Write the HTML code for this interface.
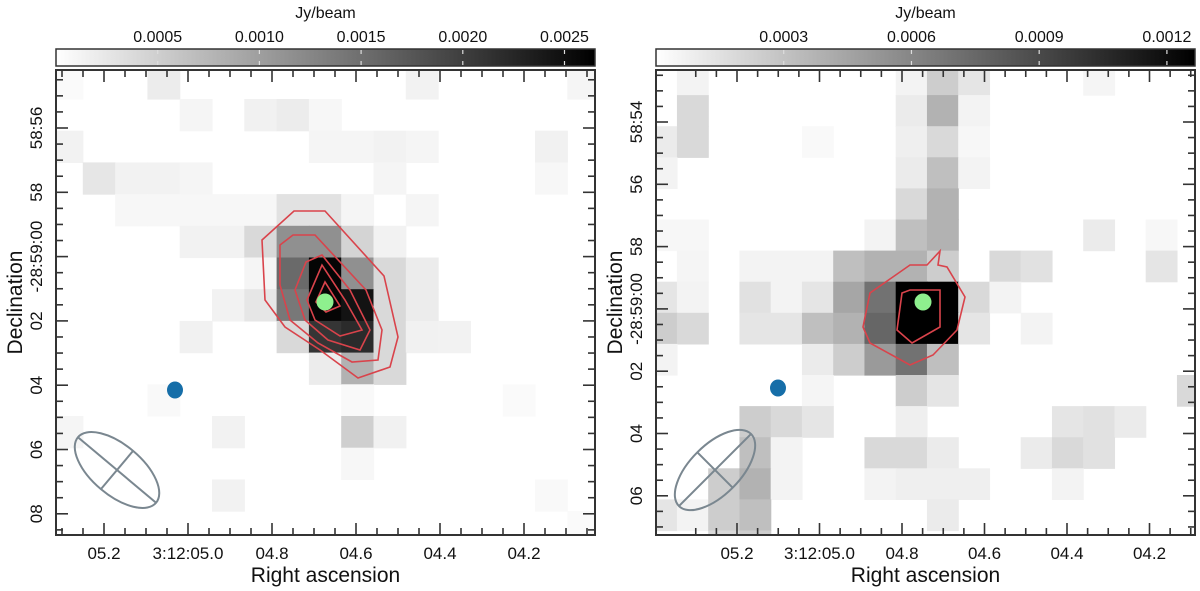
<!DOCTYPE html>
<html><head><meta charset="utf-8"><style>
html,body{margin:0;padding:0;background:#fff;}
svg{display:block;font-family:"Liberation Sans",Arial,sans-serif;}
</style></head><body>
<svg id="fig" width="1200" height="591" viewBox="0 0 1200 591" xmlns="http://www.w3.org/2000/svg">
<defs>
<linearGradient id="gbar" x1="0" x2="1" y1="0" y2="0"><stop offset="0" stop-color="#fff"/><stop offset="1" stop-color="#000"/></linearGradient>
<clipPath id="clipL"><rect x="56" y="70" width="539" height="465"/></clipPath>
<clipPath id="clipR"><rect x="656" y="70" width="539" height="465"/></clipPath>
</defs>
<g id="left"></g>
<g id="right"></g>
</svg>
<script>
// Flux maps (units of 1e-4 Jy/beam)
const leftMap = [
[0.5,0,0,2,0,0,0,0,0,0,0,1.3,0,0,0,0,1],
[0,0,0,0,1,0,1.5,2,0.8,0,0,0,0,0,0,0,0],
[1.3,0,0,0,0,0,0,0,1,1,1.3,1,0,0,0,1.5,0],
[0,2.6,1.3,1.3,1,0,0,0,0,0,1,0,0,0,0,0.8,0],
[0,0,0.8,0.8,0.8,0.8,0.8,3,3,1,0,1,0,0,0,0,0],
[0,0,0,0,1.3,1.3,4,11.5,11.5,4.5,1.3,0,0,0,0,0,0],
[0,0,0,0,0,0,1,15.5,26,11.5,4,2,0,0,0,0,0],
[0,0,0,0,0,1.3,2.6,14,26,24.5,4,2,0,0,0,0,0],
[0,0,0,0,1.5,0,0,4,21,22,4,1.5,1.3,0,0,0,0],
[0,0,0,0,0,0,0,0,2,8,4,0,0,0,0,0,0],
[0,0,0,0.6,0,0,0,0,0,0.6,0,0,0,0,0.5,0,0],
[1,0,0,0,0,1.3,0,0,0,5,1.5,0,0,0,0,0,0],
[0,0,0,0,0,0,0,0,0,0.8,0,0,0,0,0,0,0],
[0,0,0,0,0,1.3,0,0,0,0,0,0,0,0,0,0.6,0],
[0,0,0,0,0,0,0,0,0,0,0,0,0,0,0,0,0.5]
];
const rightMap = [
[0,0.6,0,0,0,0,0,0,0.6,2.5,1.3,0,0,0,0.5,0,0,0],
[0,1.9,0,0,0,0,0,0,1,3.8,0.6,0,0,0,0,0,0,0],
[1,1.9,0,0,0,0.3,0,0,0.8,1.9,0.4,0,0,0,0,0,0,0],
[0.6,0,0,0,0,0,0,0,1,3.2,0.6,0,0,0,0,0,0,0],
[0,0,0,0,0,0,0,0,1.9,3.8,0,0,0,0,0,0,0,0],
[0.4,0.4,0,0,0,0,0,0.6,3.2,3.8,0,0,0,0,1,0,0.4,0],
[0,0.5,0,0.6,0.6,0.6,3.2,3.8,3.8,2.5,0,1.9,1.5,0,0,0,1.3,0],
[1.3,0.6,0,1.5,0.6,1.3,4.4,7,12.7,12.7,1.9,0.6,0,0,0,0,0,0],
[2.5,1.9,0,1.3,1.3,3.2,3.8,7.6,12.7,12.7,1.3,0,0.6,0,0,0,0,0],
[0.6,0,0,0,0,1,2.5,5,7,3.2,0,0,0,0,0,0,0,0],
[0,0,0,0,0,0.5,0,0,2.5,1.3,0,0,0,0,0,0,0,1.9],
[0,0,0,2.5,1.9,1.3,0,0,0.8,0,0,0,0,1.3,1.5,1,0,0],
[0,0,0,3.2,0.6,0,0,1.9,1.9,1,0,0,1,1.9,1.5,0,0,0],
[0,0,2.5,3.8,0.6,0,0,0.6,0.8,0.8,0.8,0,0,0.6,0,0,0,0],
[1.3,0.6,2.5,3.2,0,0,0,0,0,1,0,0,0,0,0,0,0,0],
[0,0,1.9,2.5,0,0,0,0,0,0,0,0,0,0,0,0,0,0]
];
const leftCbTicks = ["0.0005","0.0010","0.0015","0.0020","0.0025"];
const leftCbVals = [5,10,15,20,25];
const rightCbTicks = ["0.0003","0.0006","0.0009","0.0012"];
const rightCbVals = [3,6,9,12];
const leftXLabels = ["05.2","3:12:05.0","04.8","04.6","04.4","04.2"];
const leftYLabels = ["58:56","58","-28:59:00","02","04","06","08"];
const rightXLabels = ["05.2","3:12:05.0","04.8","04.6","04.4","04.2"];
const rightYLabels = ["58:54","56","58","-28:59:00","02","04","06"];

const NS="http://www.w3.org/2000/svg";
function mk(parent,tag,attrs,text){const e=document.createElementNS(NS,tag);for(const k in attrs)e.setAttribute(k,attrs[k]);if(text!==undefined)e.textContent=text;parent.appendChild(e);return e;}

function panel(g,cfg){
  const {px,py,pw,ph,map,vmax,cx0,cy0,cw,chh,clip}=cfg;
  const mg=mk(g,'g',{'clip-path':'url(#'+clip+')'});
  
  
  const xc=c=>cx0+c*cw, yc=r=>cy0+r*chh;
  map.forEach((row,r)=>row.forEach((v,c)=>{
    if(v<=0)return;
    const s=Math.round(255*(1-Math.min(v/vmax,1)));
    const rc=mk(mg,'rect',{x:xc(c),y:yc(r),width:cw+0.6,height:chh+0.6,fill:`rgb(${s},${s},${s})`});
    
    
  }));
  cfg.contours.forEach(pts=>{
    const p=mk(mg,'polygon',{points:pts.map(q=>q.join(',')).join(' '),fill:'none',stroke:'#d9434b','stroke-width':1.6});
    
    
  });
  const gm=mk(mg,'circle',{cx:cfg.green[0],cy:cfg.green[1],r:8.5,fill:'#8ef08e'});
  
  
  const bm=mk(mg,'ellipse',{cx:cfg.blue[0],cy:cfg.blue[1],rx:8,ry:8.5,fill:'#166ea8'});
  
  
  const bg=mk(g,'g',{transform:`translate(${cfg.beam[0]},${cfg.beam[1]}) rotate(${cfg.beam[2]})`,stroke:'#7a8790','stroke-width':2,fill:'none'});
  
  
  mk(bg,'ellipse',{cx:0,cy:0,rx:51,ry:25});
  mk(bg,'line',{x1:-51,y1:0,x2:51,y2:0});
  mk(bg,'line',{x1:0,y1:-25,x2:0,y2:25});
  const fr=mk(g,'rect',{x:px,y:py,width:pw,height:ph,fill:'none',stroke:'#333','stroke-width':2});
  
  
  const tg=mk(g,'g',{stroke:'#333','stroke-width':1.6});
  
  
  for(let k=-2;k<40;k++){
    const x=cfg.x0+k*cfg.xs/4; if(x<px+2||x>px+pw-2)continue;
    const L=(k%4===0)?12:7;
    mk(tg,'line',{x1:x,y1:py+ph,x2:x,y2:py+ph-L});
    mk(tg,'line',{x1:x,y1:py,x2:x,y2:py+L});
  }
  for(let k=-4;k<40;k++){
    const y=cfg.y0+k*cfg.ys/4; if(y<py+2||y>py+ph-2)continue;
    const L=(k%4===0)?12:7;
    mk(tg,'line',{x1:px,y1:y,x2:px+L,y2:y});
    mk(tg,'line',{x1:px+pw,y1:y,x2:px+pw-L,y2:y});
  }
  cfg.xl.forEach((t,i)=>{
    const e=mk(g,'text',{x:cfg.x0+i*cfg.xs,y:py+ph+24,'font-size':17,'text-anchor':'middle',fill:'#111'},t);
    
    
  });
  cfg.yl.forEach((t,i)=>{
    const y=cfg.y0+i*cfg.ys;
    const e=mk(g,'text',{x:0,y:0,transform:`translate(${px-14},${y}) rotate(-90)`,'font-size':17,'text-anchor':'middle',fill:'#111'},t);
    
    
  });
  const xt=mk(g,'text',{x:px+pw/2,y:582,'font-size':21,'text-anchor':'middle',fill:'#111'},'Right ascension');
  
  
  const yt=mk(g,'text',{x:0,y:0,transform:`translate(${px-34},${py+ph/2}) rotate(-90)`,'font-size':21,'text-anchor':'middle',fill:'#111'},'Declination');
  
  
  const cb=mk(g,'rect',{x:px,y:49,width:pw,height:17,fill:'url(#gbar)',stroke:'#333','stroke-width':1.5});
  
  
  cfg.cbv.forEach((v,i)=>{
    const x=px+pw*v/vmax;
    mk(g,'line',{x1:x,y1:50,x2:x,y2:54,stroke:'#ddd','stroke-width':1.2});
    mk(g,'line',{x1:x,y1:61,x2:x,y2:65,stroke:'#ddd','stroke-width':1.2});
    const e=mk(g,'text',{x:x,y:42,'font-size':16,'text-anchor':'middle',fill:'#111'},cfg.cbt[i]);
    
    
  });
  const cu=mk(g,'text',{x:px+pw/2,y:18,'font-size':16,'text-anchor':'middle',fill:'#111'},'Jy/beam');
  
  
}

panel(document.getElementById('left'),{
  px:56,py:70,pw:539,ph:465,map:leftMap,vmax:26.5,cx0:50.5,cy0:67.3,cw:32.3,chh:31.7,clip:'clipL',
  contours:[
    [[262,240],[294,211],[325,211],[384,276],[398,337],[390,367],[358,378],[320,350],[285,327],[265,300]],
    [[280,245],[293,235],[315,235],[366,290],[382,330],[378,360],[352,362],[318,343],[290,320],[280,285]],
    [[295,290],[306,262],[322,255],[350,290],[370,330],[360,350],[328,340],[305,320]],
    [[307,300],[322,265],[345,300],[362,330],[340,336],[315,320]],
    [[316,302],[325,282],[340,306],[326,312]]
  ],
  green:[325,302],blue:[175,390],beam:[117,470,40],
  x0:104,xs:84,y0:128,ys:64.3,xl:leftXLabels,yl:leftYLabels,cbv:leftCbVals,cbt:leftCbTicks
});
panel(document.getElementById('right'),{
  px:656,py:70,pw:539,ph:465,map:rightMap,vmax:12.66,cx0:645.7,cy0:64,cw:31.25,chh:31.1,clip:'clipR',
  contours:[
    [[940,251],[938,265],[947,267],[965,297],[957,330],[933,355],[910,365],[870,343],[863,327],[870,293],[910,265],[927,265]],
    [[902,293],[910,290],[940,290],[940,327],[912,343],[897,330]]
  ],
  green:[923,302],blue:[778,388],beam:[715,470,-45],
  x0:737,xs:82.5,y0:122,ys:62.3,xl:rightXLabels,yl:rightYLabels,cbv:rightCbVals,cbt:rightCbTicks
});
</script>
</body></html>
